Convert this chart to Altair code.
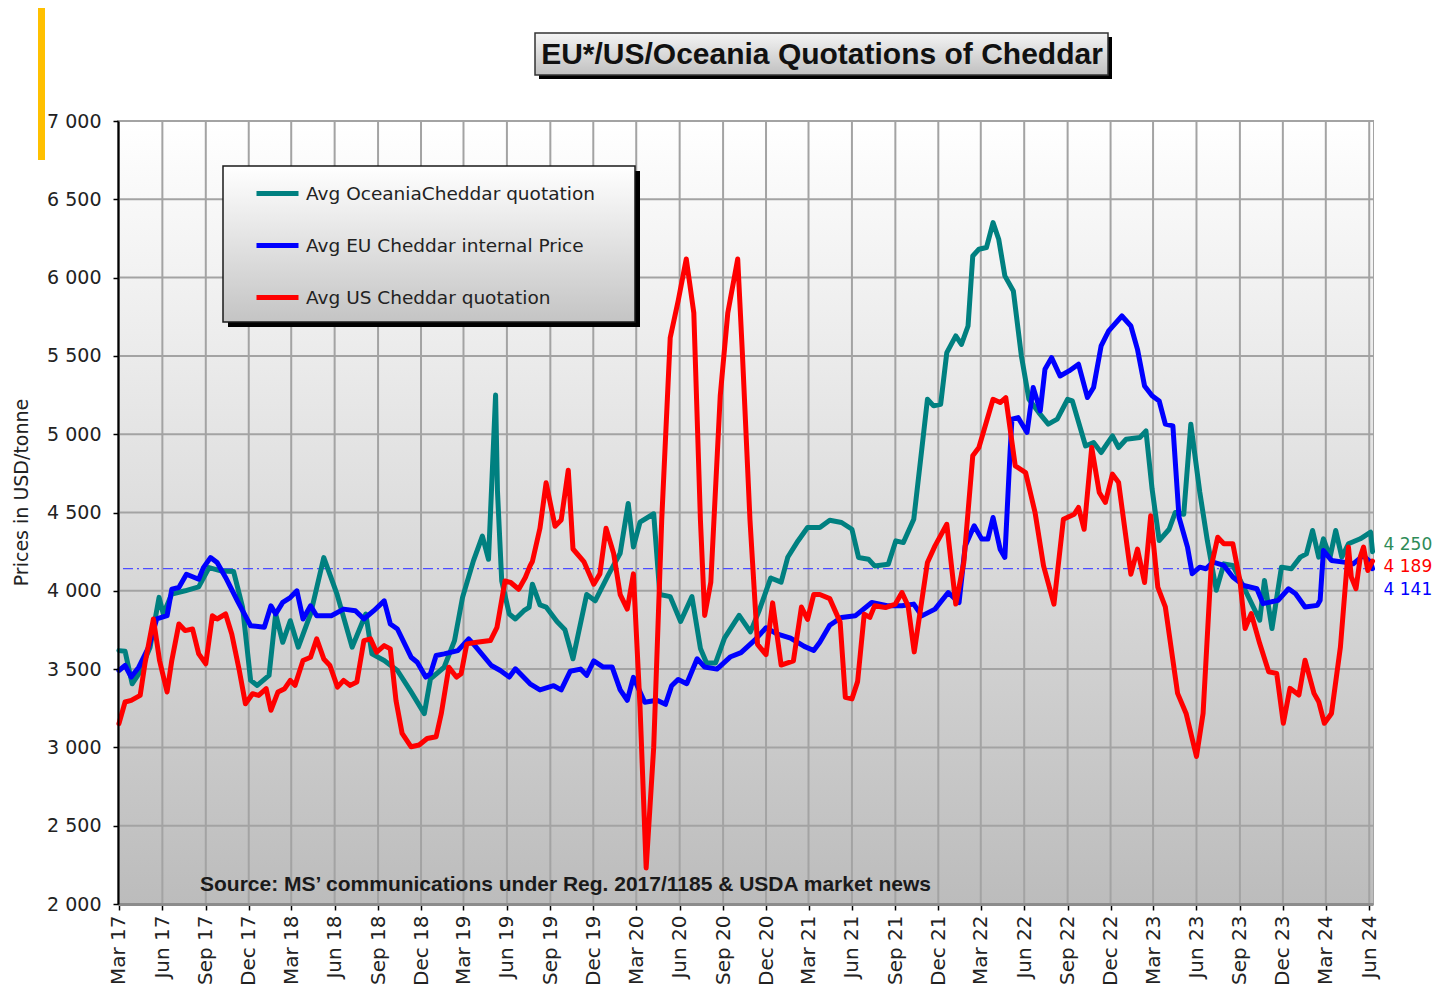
import altair as alt
import pandas as pd

# ---------------- data ----------------
series_names = ["Avg OceaniaCheddar quotation", "Avg EU Cheddar internal Price", "Avg US Cheddar quotation"]
series_colors = ["#008080", "#0000FF", "#FF0000"]
label_colors = ["#2E8B57", "#0000FF", "#FF0000"]

oce_dates = [
    "2017-03-01", "2017-03-14", "2017-03-29", "2017-04-12", "2017-05-06", "2017-05-25", "2017-06-03", "2017-06-21",
    "2017-07-19", "2017-08-17", "2017-09-08", "2017-10-03", "2017-10-30", "2017-11-18", "2017-12-05", "2017-12-19",
    "2018-01-13", "2018-01-27", "2018-02-11", "2018-02-27", "2018-03-16", "2018-04-11", "2018-05-09", "2018-06-06",
    "2018-07-08", "2018-08-06", "2018-08-19", "2018-09-14", "2018-10-12", "2018-11-10", "2018-12-08", "2018-12-21",
    "2019-01-19", "2019-02-10", "2019-02-27", "2019-03-22", "2019-04-10", "2019-04-23", "2019-05-08", "2019-05-12",
    "2019-05-21", "2019-06-06", "2019-06-19", "2019-07-07", "2019-07-18", "2019-07-25", "2019-08-10", "2019-08-23",
    "2019-09-15", "2019-10-02", "2019-10-19", "2019-11-17", "2019-12-05",
    "2020-01-03", "2020-01-27", "2020-02-13", "2020-02-24", "2020-03-09", "2020-04-07", "2020-04-20", "2020-05-12",
    "2020-06-03", "2020-06-27", "2020-07-15", "2020-07-28", "2020-08-16", "2020-09-04", "2020-10-05", "2020-10-29",
    "2020-11-16", "2020-12-11",
    "2021-01-02", "2021-01-16", "2021-02-07", "2021-02-27", "2021-03-25", "2021-04-15", "2021-05-10", "2021-06-01",
    "2021-06-15", "2021-07-06", "2021-07-19", "2021-08-17", "2021-09-02", "2021-09-18", "2021-10-10", "2021-10-27",
    "2021-11-08", "2021-11-21", "2021-12-06", "2021-12-19",
    "2022-01-07", "2022-01-19", "2022-02-02", "2022-02-12", "2022-02-25", "2022-03-13", "2022-03-27", "2022-04-08",
    "2022-04-21", "2022-05-09", "2022-05-26", "2022-06-11", "2022-07-02", "2022-07-22", "2022-08-10", "2022-09-01",
    "2022-09-11", "2022-10-09", "2022-10-26", "2022-11-11", "2022-12-05", "2022-12-18",
    "2023-01-03", "2023-02-01", "2023-02-14", "2023-02-27", "2023-03-14", "2023-04-04", "2023-04-17", "2023-05-05",
    "2023-05-20", "2023-06-08", "2023-06-24", "2023-07-13", "2023-07-29", "2023-08-17", "2023-09-09", "2023-10-13",
    "2023-10-23", "2023-11-08", "2023-11-28", "2023-12-19",
    "2024-01-07", "2024-01-20", "2024-02-02", "2024-02-15", "2024-02-25", "2024-03-10", "2024-03-22", "2024-04-04",
    "2024-04-18", "2024-05-13", "2024-06-04", "2024-06-08",
]
oce_vals = [
    3618, 3614, 3406, 3470, 3640, 3958, 3852, 3979, 4000, 4025, 4148, 4127, 4123, 3894, 3428, 3396,
    3460, 3852, 3671, 3809, 3640, 3852, 4212, 3979, 3640, 3852, 3597, 3555, 3491, 3354, 3216, 3438,
    3512, 3682, 3958, 4191, 4349, 4201, 5250, 4636, 4063, 3852, 3820, 3873, 3894, 4042, 3910, 3896,
    3804, 3751, 3566, 3976, 3936,
    4108, 4240, 4558, 4280, 4439, 4492, 3976, 3963, 3804, 3963, 3632, 3539, 3539, 3698, 3843, 3738,
    3870, 4082,
    4055, 4214, 4320, 4404, 4404, 4450, 4436, 4393, 4213, 4202, 4159, 4170, 4319, 4308, 4457, 4904,
    5223, 5181, 5191, 5521,
    5628, 5574, 5691, 6138, 6181, 6192, 6351, 6245, 6011, 5915, 5500, 5223, 5138, 5064, 5096, 5223,
    5213, 4925, 4947, 4883, 4989, 4915,
    4968, 4979, 5021, 4649, 4321, 4393, 4500, 4489, 5064, 4630, 4321, 4003, 4172, 4162, 4024, 3812,
    4066, 3759, 4151, 4141,
    4215, 4236, 4385, 4215, 4332, 4215, 4385, 4215, 4300, 4332, 4374, 4250,
]

eu_dates = [
    "2017-03-01", "2017-03-14", "2017-03-27", "2017-04-12", "2017-05-03", "2017-05-20", "2017-06-11", "2017-06-21",
    "2017-07-06", "2017-07-22", "2017-08-17", "2017-08-27", "2017-09-11", "2017-09-25", "2017-10-13", "2017-11-07",
    "2017-12-05",
    "2018-01-03", "2018-01-17", "2018-01-27", "2018-02-11", "2018-02-27", "2018-03-13", "2018-03-26", "2018-04-11",
    "2018-04-24", "2018-05-25", "2018-06-20", "2018-07-15", "2018-08-02", "2018-08-23", "2018-09-14", "2018-09-27",
    "2018-10-12", "2018-11-10", "2018-11-23", "2018-12-11", "2018-12-21",
    "2019-01-02", "2019-01-19", "2019-02-17", "2019-03-12", "2019-03-25", "2019-04-29", "2019-05-18", "2019-06-06",
    "2019-06-19", "2019-07-20", "2019-08-10", "2019-09-08", "2019-09-24", "2019-10-13", "2019-11-04", "2019-11-17",
    "2019-12-02", "2019-12-22",
    "2020-01-10", "2020-01-27", "2020-02-11", "2020-02-24", "2020-03-19", "2020-04-14", "2020-05-02", "2020-05-15",
    "2020-05-29", "2020-06-16", "2020-07-08", "2020-07-24", "2020-08-19", "2020-09-17", "2020-10-09", "2020-11-07",
    "2020-12-01", "2020-12-24",
    "2021-01-22", "2021-02-20", "2021-03-12", "2021-03-25", "2021-04-15", "2021-05-10", "2021-06-08", "2021-07-13",
    "2021-08-17", "2021-09-15", "2021-10-10", "2021-10-27", "2021-11-24", "2021-12-22",
    "2022-01-14", "2022-01-27", "2022-02-15", "2022-03-03", "2022-03-16", "2022-03-27", "2022-04-11", "2022-04-21",
    "2022-05-02", "2022-05-06", "2022-05-19", "2022-06-07", "2022-06-20", "2022-07-05", "2022-07-15", "2022-07-29",
    "2022-08-16", "2022-09-04", "2022-09-24", "2022-10-13", "2022-10-26", "2022-11-11", "2022-11-27", "2022-12-25",
    "2023-01-13", "2023-01-27", "2023-02-11", "2023-02-27", "2023-03-14", "2023-03-27", "2023-04-12", "2023-04-25",
    "2023-05-13", "2023-05-23", "2023-06-08", "2023-06-21", "2023-07-06", "2023-07-29", "2023-08-17", "2023-09-09",
    "2023-10-07", "2023-10-20", "2023-11-04", "2023-11-21", "2023-12-13", "2023-12-28",
    "2024-01-17", "2024-02-12", "2024-02-18", "2024-02-25", "2024-03-13", "2024-04-08", "2024-04-28", "2024-05-19",
    "2024-06-04", "2024-06-08",
]
eu_vals = [
    3491, 3523, 3449, 3512, 3640, 3820, 3841, 4010, 4021, 4106, 4074, 4148, 4212, 4180, 4085, 3936,
    3777,
    3767, 3904, 3852, 3926, 3957, 4000, 3820, 3904, 3841, 3841, 3883, 3873, 3820, 3873, 3936, 3788,
    3756, 3576, 3544, 3449, 3470,
    3587, 3597, 3618, 3693, 3650, 3523, 3491, 3449, 3502, 3406, 3367, 3394, 3367, 3486, 3500, 3460,
    3552, 3513,
    3513, 3367, 3301, 3447, 3288, 3301, 3275, 3394, 3434, 3407, 3566, 3513, 3500, 3579, 3605, 3685,
    3764, 3725,
    3698, 3645, 3619, 3672, 3780, 3830, 3840, 3925, 3904, 3904, 3915, 3840, 3883, 3989,
    3925, 4287, 4415, 4330, 4330, 4468, 4266, 4213, 4883, 5096, 5106, 5011, 5298, 5149, 5415, 5489,
    5372, 5404, 5447, 5234, 5298, 5564, 5660, 5755,
    5691, 5542, 5308, 5245, 5212, 5064, 5053, 4470, 4279, 4109, 4151, 4141, 4183, 4162, 4088, 4034,
    4013, 3918, 3928, 3939, 4013, 3981,
    3897, 3907, 3939, 4257, 4194, 4183, 4172, 4225, 4183, 4141,
]

us_dates = [
    "2017-03-01", "2017-03-14", "2017-03-27", "2017-04-15", "2017-04-25", "2017-05-13", "2017-05-26", "2017-06-11",
    "2017-06-21", "2017-07-06", "2017-07-19", "2017-08-04", "2017-08-17", "2017-09-01", "2017-09-15", "2017-09-25",
    "2017-10-13", "2017-10-26", "2017-11-11", "2017-11-24", "2017-12-09", "2017-12-22",
    "2018-01-07", "2018-01-17", "2018-02-01", "2018-02-15", "2018-02-27", "2018-03-09", "2018-03-26", "2018-04-11",
    "2018-04-24", "2018-05-09", "2018-05-22", "2018-06-07", "2018-06-20", "2018-07-04", "2018-07-18", "2018-08-02",
    "2018-08-16", "2018-08-29", "2018-09-14", "2018-09-27", "2018-10-09", "2018-10-22", "2018-11-10", "2018-11-27",
    "2018-12-14",
    "2019-01-02", "2019-01-13", "2019-01-29", "2019-02-14", "2019-02-24", "2019-03-08", "2019-03-29", "2019-04-27",
    "2019-05-11", "2019-05-28", "2019-06-09", "2019-06-26", "2019-07-10", "2019-07-20", "2019-07-25", "2019-08-10",
    "2019-08-23", "2019-09-11", "2019-09-24", "2019-10-09", "2019-10-19", "2019-11-11", "2019-12-02", "2019-12-15",
    "2019-12-28",
    "2020-01-13", "2020-01-27", "2020-02-11", "2020-02-24", "2020-03-09", "2020-03-22", "2020-04-07", "2020-04-24",
    "2020-05-12", "2020-05-29", "2020-06-15", "2020-07-01", "2020-07-15", "2020-07-24", "2020-08-06", "2020-08-26",
    "2020-09-11", "2020-10-02", "2020-10-12", "2020-10-28", "2020-11-13", "2020-12-01", "2020-12-15",
    "2021-01-02", "2021-01-28", "2021-02-14", "2021-02-27", "2021-03-12", "2021-03-25", "2021-04-15", "2021-05-07",
    "2021-05-18", "2021-06-01", "2021-06-13", "2021-06-27", "2021-07-09", "2021-07-19", "2021-08-11", "2021-09-01",
    "2021-09-15", "2021-09-28", "2021-10-11", "2021-11-08", "2021-11-24", "2021-12-19",
    "2022-01-07", "2022-01-24", "2022-02-12", "2022-02-25", "2022-03-27", "2022-04-11", "2022-04-23", "2022-05-13",
    "2022-06-04", "2022-06-24", "2022-07-12", "2022-08-03", "2022-08-23", "2022-09-15", "2022-09-24", "2022-10-06",
    "2022-10-22", "2022-11-07", "2022-11-20", "2022-12-05", "2022-12-18",
    "2023-01-13", "2023-01-27", "2023-02-11", "2023-02-24", "2023-03-11", "2023-03-27", "2023-04-22", "2023-05-10",
    "2023-06-01", "2023-06-15", "2023-07-02", "2023-07-16", "2023-07-29", "2023-08-17", "2023-09-01", "2023-09-12",
    "2023-09-25", "2023-10-13", "2023-11-01", "2023-11-18", "2023-12-02", "2023-12-16",
    "2024-01-04", "2024-01-17", "2024-02-05", "2024-02-15", "2024-02-27", "2024-03-13", "2024-04-01", "2024-04-18",
    "2024-04-24", "2024-05-04", "2024-05-13", "2024-05-20", "2024-05-29", "2024-06-08",
]
us_vals = [
    3152, 3290, 3300, 3332, 3534, 3820, 3555, 3354, 3555, 3788, 3746, 3756, 3597, 3534, 3841, 3820,
    3852, 3724, 3491, 3279, 3343, 3332,
    3375, 3237, 3354, 3375, 3428, 3396, 3555, 3576, 3693, 3565, 3523, 3385, 3428, 3396, 3417, 3682,
    3693, 3608, 3650, 3629, 3300, 3089, 3004, 3015, 3057,
    3068, 3216, 3512, 3449, 3470, 3661, 3671, 3682, 3767, 4063, 4053, 4010, 4085, 4159, 4187, 4399,
    4690, 4412, 4452, 4770, 4267, 4187, 4042, 4108, 4399,
    4240, 3976, 3883, 4108, 3261, 2230, 3000, 4452, 5616, 5854, 6119, 5775, 4452, 3843, 4055, 5246,
    5775, 6119, 5510, 4452, 3658, 3592, 3923,
    3526, 3552, 3896, 3817, 3976, 3976, 3950, 3800, 3320, 3310, 3420, 3850, 3830, 3904, 3893, 3915,
    3989, 3904, 3610, 4181, 4287, 4425,
    3915, 4181, 4862, 4915, 5223, 5202, 5234, 4798, 4755, 4500, 4159, 3915, 4457, 4489, 4532, 4393,
    4915, 4628, 4564, 4745, 4691,
    4106, 4266, 4053, 4479, 4024, 3897, 3345, 3217, 2942, 3217, 4151, 4342, 4300, 4300, 4066, 3759,
    3854, 3663, 3483, 3472, 3154, 3377,
    3334, 3557, 3345, 3292, 3154, 3217, 3642, 4279, 4088, 4013, 4215, 4279, 4130, 4189,
]

y_ticks = [2000, 2500, 3000, 3500, 4000, 4500, 5000, 5500, 6000, 6500, 7000]
x_tick_dates = [
    "2017-03-01", "2017-06-01", "2017-09-01", "2017-12-01", "2018-03-01", "2018-06-01", "2018-09-01", "2018-12-01",
    "2019-03-01", "2019-06-01", "2019-09-01", "2019-12-01", "2020-03-01", "2020-06-01", "2020-09-01", "2020-12-01",
    "2021-03-01", "2021-06-01", "2021-09-01", "2021-12-01", "2022-03-01", "2022-06-01", "2022-09-01", "2022-12-01",
    "2023-03-01", "2023-06-01", "2023-09-01", "2023-12-01", "2024-03-01", "2024-06-01",
]
x_domain = ["2017-02-27", "2024-06-09"]

title_text = "EU*/US/Oceania Quotations of Cheddar"
y_title = "Prices in USD/tonne"
source_text = "Source: MS\u2019 communications under Reg. 2017/1185  & USDA market news"

# ---------------- build ----------------
W, H = 1255, 783
FONT = "DejaVu Sans"
SANS = "Liberation Sans, Arial, sans-serif"


def dt(s):
    t = pd.Timestamp(s)
    return alt.DateTime(year=t.year, month=t.month, date=t.day, utc=True)


x_scale = alt.Scale(domain=[dt(d) for d in x_domain])
y_scale = alt.Scale(domain=[y_ticks[0], y_ticks[-1]], nice=False, zero=False)

x_axis = alt.Axis(
    values=[dt(d) for d in x_tick_dates],
    labelExpr="utcFormat(datum.value, '%b %y')",
    labelAngle=270, labelAlign="right", labelBaseline="middle",
    labelFont=FONT, labelFontSize=20, labelColor="#222222", labelPadding=5,
    labelFlush=False, labelOverlap=False,
    tickSize=6, tickColor="#000000", tickWidth=1.5,
    domainColor="#8c8c8c", domainWidth=3, grid=False, title=None, zindex=1,
)
y_axis = alt.Axis(
    values=y_ticks,
    labelExpr="replace(format(datum.value, ','), ',', ' ')",
    labelFont=FONT, labelFontSize=19, labelColor="#222222", labelPadding=12,
    labelFlush=False, labelOverlap=False,
    tickSize=5, tickColor="#000000", tickWidth=1.5,
    domainColor="#000000", domainWidth=2, grid=False,
    title=y_title, titleFont=FONT, titleFontSize=19, titleFontWeight="normal", titleColor="#222222",
    titleAngle=270, titleX=-97, titleY=371, titleAlign="center", titleBaseline="middle", zindex=1,
)
X = lambda f, t="T": alt.X(f"{f}:{t}", scale=x_scale, axis=x_axis)
Y = lambda f: alt.Y(f"{f}:Q", scale=y_scale, axis=y_axis)

color = alt.Color(
    "series:N",
    scale=alt.Scale(domain=series_names, range=series_colors),
    legend=alt.Legend(
        title=None, orient="none", legendX=136, legendY=49, direction="vertical",
        symbolType="stroke", symbolStrokeWidth=5, symbolSize=1764, symbolOpacity=1,
        labelFont=FONT, labelFontSize=18.5, labelColor="#222222", labelOffset=5, labelLimit=0,
        rowPadding=18, padding=0, zindex=1,
    ),
)

frames = [
    pd.DataFrame({"date": oce_dates, "value": oce_vals, "series": series_names[0]}),
    pd.DataFrame({"date": eu_dates, "value": eu_vals, "series": series_names[1]}),
    pd.DataFrame({"date": us_dates, "value": us_vals, "series": series_names[2]}),
]


def grad(top, bottom):
    return alt.LinearGradient(
        gradient="linear", x1=0, x2=0, y1=0, y2=1,
        stops=[alt.GradientStop(color=top, offset=0), alt.GradientStop(color=bottom, offset=1)],
    )


one = alt.Data(values=[{}])


def box(x1, x2, y1, y2, **kw):
    return alt.Chart(one).mark_rect(**kw).encode(
        x=alt.value(x1), x2=alt.value(x2), y=alt.value(y1), y2=alt.value(y2)
    )


background = box(0, W, 0, H, fill=grad("#ffffff", "#bcbcbc"))

hgrid = alt.Chart(pd.DataFrame({"v": y_ticks})).mark_rule(color="#a3a3a3", strokeWidth=2).encode(y=Y("v"))
vgrid = alt.Chart(pd.DataFrame({"d": x_tick_dates})).mark_rule(color="#a3a3a3", strokeWidth=2).encode(x=X("d"))
ref_line = alt.Chart(pd.DataFrame({"v": [eu_vals[-1]]})).mark_rule(
    color="#4d4dff", strokeWidth=1.2, strokeDash=[10, 4, 2, 4]
).encode(y=Y("v"))

lines = [
    alt.Chart(f).mark_line(strokeWidth=5, strokeJoin="round", strokeCap="round").encode(
        x=X("date"), y=Y("value"), color=color
    )
    for f in frames
]

legend_shadow = box(110, 522, 50, 206, fill="#000000")
legend_box = box(105, 517, 45, 201, fill=grad("#ffffff", "#c4c4c4"), stroke="#1a1a1a", strokeWidth=1.5)

end_offsets = [-7, 21, 6]
end_labels = []
for f, c, dy in zip(frames, label_colors, end_offsets):
    last = f.tail(1).copy()
    last["label"] = last["value"].map(lambda v: f"{v:,}".replace(",", " "))
    end_labels.append(
        alt.Chart(last).mark_text(align="left", baseline="middle", dx=11, dy=dy, font=FONT, fontSize=17, color=c)
        .encode(x=X("date"), y=Y("value"), text="label:N")
    )

source = alt.Chart(alt.Data(values=[{"t": source_text}])).mark_text(
    align="left", baseline="middle", font=SANS, fontSize=21, fontWeight="bold", color="#1a1a1a"
).encode(x=alt.value(82), y=alt.value(764), text="t:N")

title_shadow = box(421, 994, -84, -42, fill="#000000")
title_box = box(417, 990, -88, -46, fill=grad("#f4f4f4", "#c0c0c0"), stroke="#333333", strokeWidth=1.5)
title_mark = alt.Chart(alt.Data(values=[{"t": title_text}])).mark_text(
    align="center", baseline="middle", font=SANS, fontSize=30, fontWeight="bold", color="#111111"
).encode(x=alt.value(704), y=alt.value(-66), text="t:N")
orange_bar = box(-80, -73, -116, 39, fill="#FFC000")

chart = alt.layer(
    background, hgrid, vgrid, ref_line, *lines, legend_shadow, legend_box, *end_labels, source,
    title_shadow, title_box, title_mark, orange_bar,
).properties(
    width=W, height=H,
    autosize=alt.AutoSizeParams(type="none"),
    padding={"left": 110, "top": 113, "right": 62, "bottom": 82},
).configure_view(stroke="#a3a3a3", strokeWidth=2)

chart.save("out.html", embed_options={"renderer": "svg", "actions": False})
